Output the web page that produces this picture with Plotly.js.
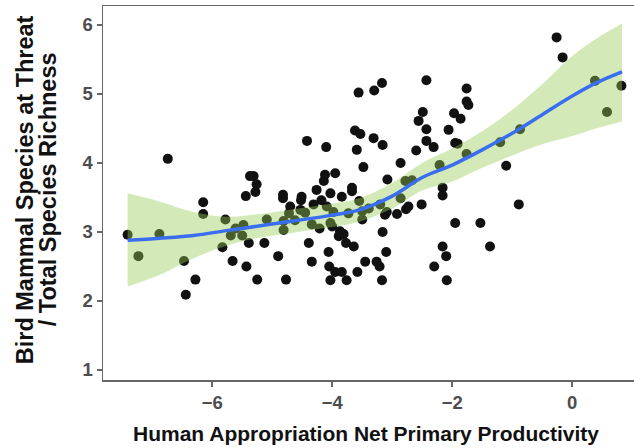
<!DOCTYPE html>
<html>
<head>
<meta charset="utf-8">
<script src="https://cdn.plot.ly/plotly-3.0.1.min.js"></script>
<style>html,body{margin:0;padding:0;background:#fff;}#chart{width:634px;height:448px;}</style>
</head>
<body>
<div id="chart"></div>
<script>
// Observed points: Human appropriation NPP (x) vs threatened bird+mammal / total richness (y)
const hanppX = [-7.41,-7.23,-6.88,-6.74,-6.47,-6.44,-6.28,-6.15,-6.15,-5.83,-5.78,-5.69,-5.66,-5.61,-5.50,-5.48,-5.44,-5.43,-5.39,-5.37,-5.31,-5.28,-5.26,-5.25,-5.13,-5.09,-4.90,-4.82,-4.82,-4.81,-4.81,-4.77,-4.72,-4.70,-4.62,-4.53,-4.51,-4.52,-4.45,-4.42,-4.39,-4.34,-4.34,-4.31,-4.26,-4.21,-4.18,-4.14,-4.12,-4.10,-4.09,-4.06,-4.05,-4.03,-4.03,-4.00,-4.03,-3.98,-3.95,-3.95,-3.87,-3.81,-3.89,-3.84,-3.84,-3.77,-3.76,-3.73,-3.67,-3.67,-3.64,-3.62,-3.59,-3.58,-3.56,-3.55,-3.53,-3.50,-3.50,-3.48,-3.45,-3.39,-3.31,-3.30,-3.26,-3.21,-3.20,-3.17,-3.17,-3.16,-3.16,-3.10,-3.09,-3.12,-3.08,-2.92,-2.86,-2.86,-2.78,-2.67,-2.73,-2.77,-2.60,-2.56,-2.51,-2.49,-2.43,-2.43,-2.43,-2.31,-2.30,-2.21,-2.16,-2.16,-2.16,-2.10,-2.09,-2.06,-1.97,-1.95,-1.91,-1.95,-1.86,-1.76,-1.76,-1.73,-1.76,-1.53,-1.37,-1.20,-1.10,-0.89,-0.87,-0.26,-0.16,0.38,0.58,0.82];
const threatY = [2.96,2.65,2.97,4.06,2.58,2.09,2.31,3.43,3.26,2.78,3.18,2.95,2.58,3.05,2.95,3.10,3.52,2.50,2.84,3.81,3.81,3.58,3.69,2.31,2.84,3.18,2.65,3.54,3.49,3.16,3.03,2.31,3.27,3.37,3.17,3.32,3.51,3.46,3.28,4.32,2.84,3.11,2.57,3.40,3.61,3.05,3.46,3.74,3.83,4.23,3.37,2.71,2.50,3.56,3.13,3.08,2.30,3.29,3.85,2.42,3.01,2.97,2.94,3.51,2.42,2.84,2.30,3.27,3.64,3.59,2.79,4.47,4.19,2.42,5.02,3.45,4.42,3.30,3.18,3.94,2.57,3.34,4.36,5.05,2.57,2.50,3.40,5.16,2.30,4.26,3.00,2.71,3.29,3.25,3.76,3.26,4.00,3.49,3.74,3.75,3.37,3.33,4.18,4.61,3.40,4.74,5.20,4.49,4.32,4.23,2.50,3.97,3.64,3.53,2.79,2.65,2.30,4.48,4.72,4.29,4.28,3.13,4.64,5.08,4.89,4.84,4.13,3.13,2.79,4.30,3.96,3.40,4.49,5.82,5.53,5.19,4.74,5.12];

// Smoothed (loess) fit with confidence band
const fitX = [-7.41,-6.87,-6.31,-5.76,-5.2,-4.65,-4.1,-3.55,-3.0,-2.5,-2.0,-1.5,-1.0,-0.5,0.0,0.4,0.83];
const fitY = [2.88,2.91,2.95,3.02,3.09,3.16,3.23,3.32,3.52,3.79,3.97,4.19,4.43,4.70,4.97,5.16,5.32];
const fitUpper = [3.56,3.44,3.29,3.22,3.26,3.33,3.40,3.49,3.71,4.00,4.21,4.46,4.77,5.14,5.55,5.80,6.02];
const fitLower = [2.21,2.38,2.62,2.80,2.92,2.99,3.06,3.15,3.34,3.60,3.73,3.93,4.11,4.27,4.39,4.50,4.60];

const xTickVals = [-6,-4,-2,0];
const yTickVals = [1,2,3,4,5,6];
const xTitle = 'Human Appropriation Net Primary Productivity';
const yTitleLines = ['Bird Mammal Species at Threat', '/ Total Species Richness'];

const fontFam = 'Liberation Sans, Arial, Helvetica, sans-serif';

const traces = [
  {x: hanppX, y: threatY, type: 'scatter', mode: 'markers',
   marker: {color: '#111111', size: 10}, hoverinfo: 'x+y', showlegend: false},
  {x: fitX, y: fitUpper, type: 'scatter', mode: 'lines',
   line: {width: 0, color: 'rgba(0,0,0,0)', shape: 'spline'}, showlegend: false, hoverinfo: 'skip'},
  {x: fitX, y: fitLower, type: 'scatter', mode: 'lines', fill: 'tonexty',
   fillcolor: 'rgba(150,205,85,0.42)',
   line: {width: 0, color: 'rgba(0,0,0,0)', shape: 'spline'}, showlegend: false, hoverinfo: 'skip'},
  {x: fitX, y: fitY, type: 'scatter', mode: 'lines',
   line: {color: '#3a6ef0', width: 3.5, shape: 'spline'}, showlegend: false}
];

const titleFont = {family: fontFam, size: 21, color: '#111111', weight: 'bold'};
const yTitleFont = {family: fontFam, size: 23.5, color: '#111111', weight: 'bold'};

const layout = {
  width: 634, height: 448,
  margin: {l: 103, r: 0, t: 6, b: 68},
  paper_bgcolor: '#ffffff', plot_bgcolor: '#ffffff',
  font: {family: fontFam, size: 18, color: '#4d4d4d', weight: 'bold'},
  xaxis: {
    range: [-7.82, 1.03], tickvals: xTickVals, showgrid: false, zeroline: false,
    showline: true, mirror: true, linecolor: '#666666', linewidth: 1.5,
    ticks: 'outside', ticklen: 5, tickwidth: 1.5, tickcolor: '#666666',
    tickfont: {family: fontFam, size: 18.5, color: '#4d4d4d', weight: 'bold'}
  },
  yaxis: {
    range: [0.855, 6.275], tickvals: yTickVals, showgrid: false, zeroline: false,
    showline: true, mirror: false, linecolor: '#666666', linewidth: 1.5,
    ticks: 'outside', ticklen: 5, tickwidth: 1.5, tickcolor: '#666666',
    tickfont: {family: fontFam, size: 18.5, color: '#4d4d4d', weight: 'bold'}
  },
  annotations: [
    {text: xTitle, xref: 'paper', yref: 'paper', x: 0.496, y: -0.143,
     xanchor: 'center', yanchor: 'middle', showarrow: false, font: titleFont},
    {text: yTitleLines[0], xref: 'paper', yref: 'paper', x: -0.1469, y: 0.51,
     xanchor: 'center', yanchor: 'middle', textangle: -90, showarrow: false, font: yTitleFont},
    {text: yTitleLines[1], xref: 'paper', yref: 'paper', x: -0.1036, y: 0.51,
     xanchor: 'center', yanchor: 'middle', textangle: -90, showarrow: false, font: yTitleFont}
  ]
};

Plotly.newPlot('chart', traces, layout, {staticPlot: true, displayModeBar: false});
</script>
</body>
</html>
